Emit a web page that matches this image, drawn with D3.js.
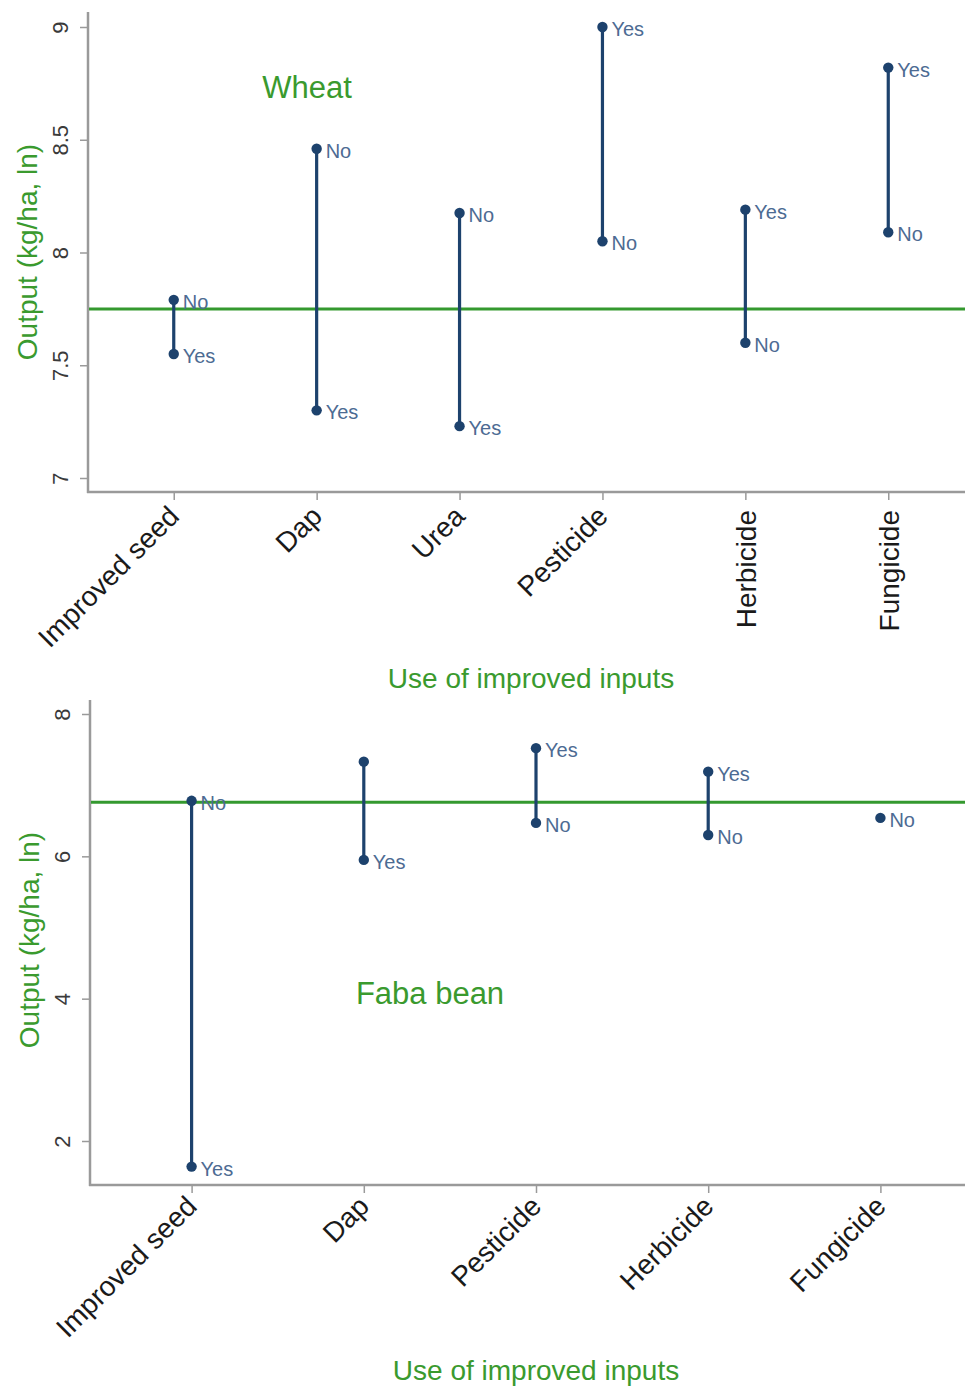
<!DOCTYPE html>
<html>
<head>
<meta charset="utf-8">
<script src="https://cdn.jsdelivr.net/npm/d3@7"></script>
<style>
  html, body { margin: 0; padding: 0; background: #fff; }
  svg { display: block; font-family: "Liberation Sans", Arial, sans-serif; }
</style>
</head>
<body>
<svg id="chart" width="965" height="1387"></svg>
<script>
// Wheat: mean log output by use / non-use of each input
const wheatCategories = ["Improved seed", "Dap", "Urea", "Pesticide", "Herbicide", "Fungicide"];
const wheatYes = [7.55, 7.30, 7.23, 9.00, 8.19, 8.82];
const wheatNo  = [7.79, 8.46, 8.175, 8.05, 7.60, 8.09];
const wheatMean = 7.75;
const wheatTicks = [7, 7.5, 8, 8.5, 9];
const wheatLabelAngles = [-45, -45, -45, -45, -90, -90];

// Faba bean
const fabaCategories = ["Improved seed", "Dap", "Pesticide", "Herbicide", "Fungicide"];
const fabaYes = [1.64, 5.95, 7.52, 7.19, null];
const fabaNo  = [6.78, 7.33, 6.47, 6.30, 6.54];
const fabaMean = 6.76;
const fabaTicks = [2, 4, 6, 8];
const fabaLabelAngles = [-45, -45, -45, -45, -45];
const fabaHiddenLabels = ["Dap|No"];

const GREEN = "#3a9a2e";
const LINE_GREEN = "#34992f";
const NAVY = "#1d426d";
const LABEL_BLUE = "#4d6b93";
const AXIS_GREY = "#9a9a9a";

const svg = d3.select("#chart");

function drawPanel(cfg) {
  const g = svg.append("g");
  const x = d3.scalePoint().domain(cfg.categories).range(cfg.xRange).padding(cfg.xPadding);
  const y = d3.scaleLinear().domain(cfg.yDomain).range(cfg.yRange);

  // y axis
  const yAxis = g.append("g")
    .attr("transform", `translate(${cfg.left},0)`)
    .call(d3.axisLeft(y).tickValues(cfg.ticks).tickSize(8).tickPadding(14)
      .tickFormat(d3.format("")));
  yAxis.select(".domain").remove();
  yAxis.selectAll(".tick line").attr("stroke", AXIS_GREY).attr("stroke-width", 1.5);
  yAxis.selectAll(".tick text")
    .attr("fill", "#3a3a3a")
    .style("font-size", "22px")
    .attr("x", null).attr("dy", null)
    .attr("text-anchor", "middle")
    .attr("transform", "translate(-28,0) rotate(-90)")
    .attr("dy", "0.35em");

  // x axis
  const xAxis = g.append("g")
    .attr("transform", `translate(0,${cfg.bottom})`)
    .call(d3.axisBottom(x).tickSize(8).tickFormat(""));
  xAxis.select(".domain").remove();
  xAxis.selectAll(".tick line").attr("stroke", AXIS_GREY).attr("stroke-width", 1.5);

  // axis frame lines
  g.append("line")
    .attr("x1", cfg.left).attr("x2", cfg.left)
    .attr("y1", cfg.top).attr("y2", cfg.bottom + 1)
    .attr("stroke", AXIS_GREY).attr("stroke-width", 2.5);
  g.append("line")
    .attr("x1", cfg.left - 1).attr("x2", 965)
    .attr("y1", cfg.bottom).attr("y2", cfg.bottom)
    .attr("stroke", AXIS_GREY).attr("stroke-width", 2.5);

  // category labels
  g.selectAll("text.cat")
    .data(cfg.categories)
    .join("text")
    .attr("class", "cat")
    .attr("text-anchor", "end")
    .attr("fill", "#1a1a1a")
    .style("font-size", "28px")
    .attr("transform", (d, i) => {
      const a = cfg.labelAngles[i];
      const px = x(d) + (a === -90 ? 11 : 7);
      const py = cfg.bottom + (a === -90 ? 18 : cfg.diagDrop);
      return `translate(${px},${py}) rotate(${a})`;
    })
    .text(d => d);

  // mean line
  g.append("line")
    .attr("x1", cfg.left + 1).attr("x2", 965)
    .attr("y1", y(cfg.mean)).attr("y2", y(cfg.mean))
    .attr("stroke", LINE_GREEN).attr("stroke-width", 3);

  // connecting ranges
  const rows = cfg.categories.map((c, i) => ({ cat: c, yes: cfg.yes[i], no: cfg.no[i] }));
  g.selectAll("line.range")
    .data(rows.filter(r => r.yes != null && r.no != null))
    .join("line")
    .attr("class", "range")
    .attr("x1", d => x(d.cat)).attr("x2", d => x(d.cat))
    .attr("y1", d => y(d.yes)).attr("y2", d => y(d.no))
    .attr("stroke", NAVY).attr("stroke-width", 3.2);

  // points and labels
  const pts = [];
  rows.forEach(r => {
    if (r.yes != null) pts.push({ cat: r.cat, v: r.yes, lab: "Yes" });
    if (r.no != null) pts.push({ cat: r.cat, v: r.no, lab: "No" });
  });
  g.selectAll("circle.pt")
    .data(pts)
    .join("circle")
    .attr("class", "pt")
    .attr("cx", d => x(d.cat)).attr("cy", d => y(d.v))
    .attr("r", 5.2)
    .attr("fill", NAVY);
  g.selectAll("text.pl")
    .data(pts.filter(d => !(cfg.hidden || []).includes(d.cat + "|" + d.lab)))
    .join("text")
    .attr("class", "pl")
    .attr("x", d => x(d.cat) + 9)
    .attr("y", d => y(d.v) + 9)
    .attr("fill", LABEL_BLUE)
    .style("font-size", "20px")
    .text(d => d.lab);

  // titles
  g.append("text")
    .attr("text-anchor", "middle")
    .attr("transform", `translate(${cfg.yTitleX},${cfg.yTitleY}) rotate(-90)`)
    .attr("fill", GREEN)
    .style("font-size", "28px")
    .text("Output (kg/ha, ln)");
  g.append("text")
    .attr("text-anchor", "middle")
    .attr("x", cfg.xTitleX).attr("y", cfg.xTitleY)
    .attr("fill", GREEN)
    .style("font-size", "28px")
    .text("Use of improved inputs");
  g.append("text")
    .attr("text-anchor", "middle")
    .attr("x", cfg.nameX).attr("y", cfg.nameY)
    .attr("fill", GREEN)
    .style("font-size", "31px")
    .text(cfg.name);
}

drawPanel({
  categories: wheatCategories, yes: wheatYes, no: wheatNo, mean: wheatMean,
  ticks: wheatTicks, labelAngles: wheatLabelAngles, diagDrop: 26,
  xRange: [88, 974], xPadding: 0.6,
  yDomain: [7, 9], yRange: [478, 27],
  left: 88, top: 12, bottom: 492,
  yTitleX: 37, yTitleY: 252,
  xTitleX: 531, xTitleY: 688,
  name: "Wheat", nameX: 307, nameY: 98
});

drawPanel({
  categories: fabaCategories, yes: fabaYes, no: fabaNo, mean: fabaMean,
  ticks: fabaTicks, labelAngles: fabaLabelAngles, hidden: fabaHiddenLabels, diagDrop: 23,
  xRange: [90, 982], xPadding: 0.59,
  yDomain: [2, 8], yRange: [1141, 714],
  left: 90, top: 700, bottom: 1185,
  yTitleX: 39, yTitleY: 940,
  xTitleX: 536, xTitleY: 1380,
  name: "Faba bean", nameX: 430, nameY: 1004
});
</script>
</body>
</html>
